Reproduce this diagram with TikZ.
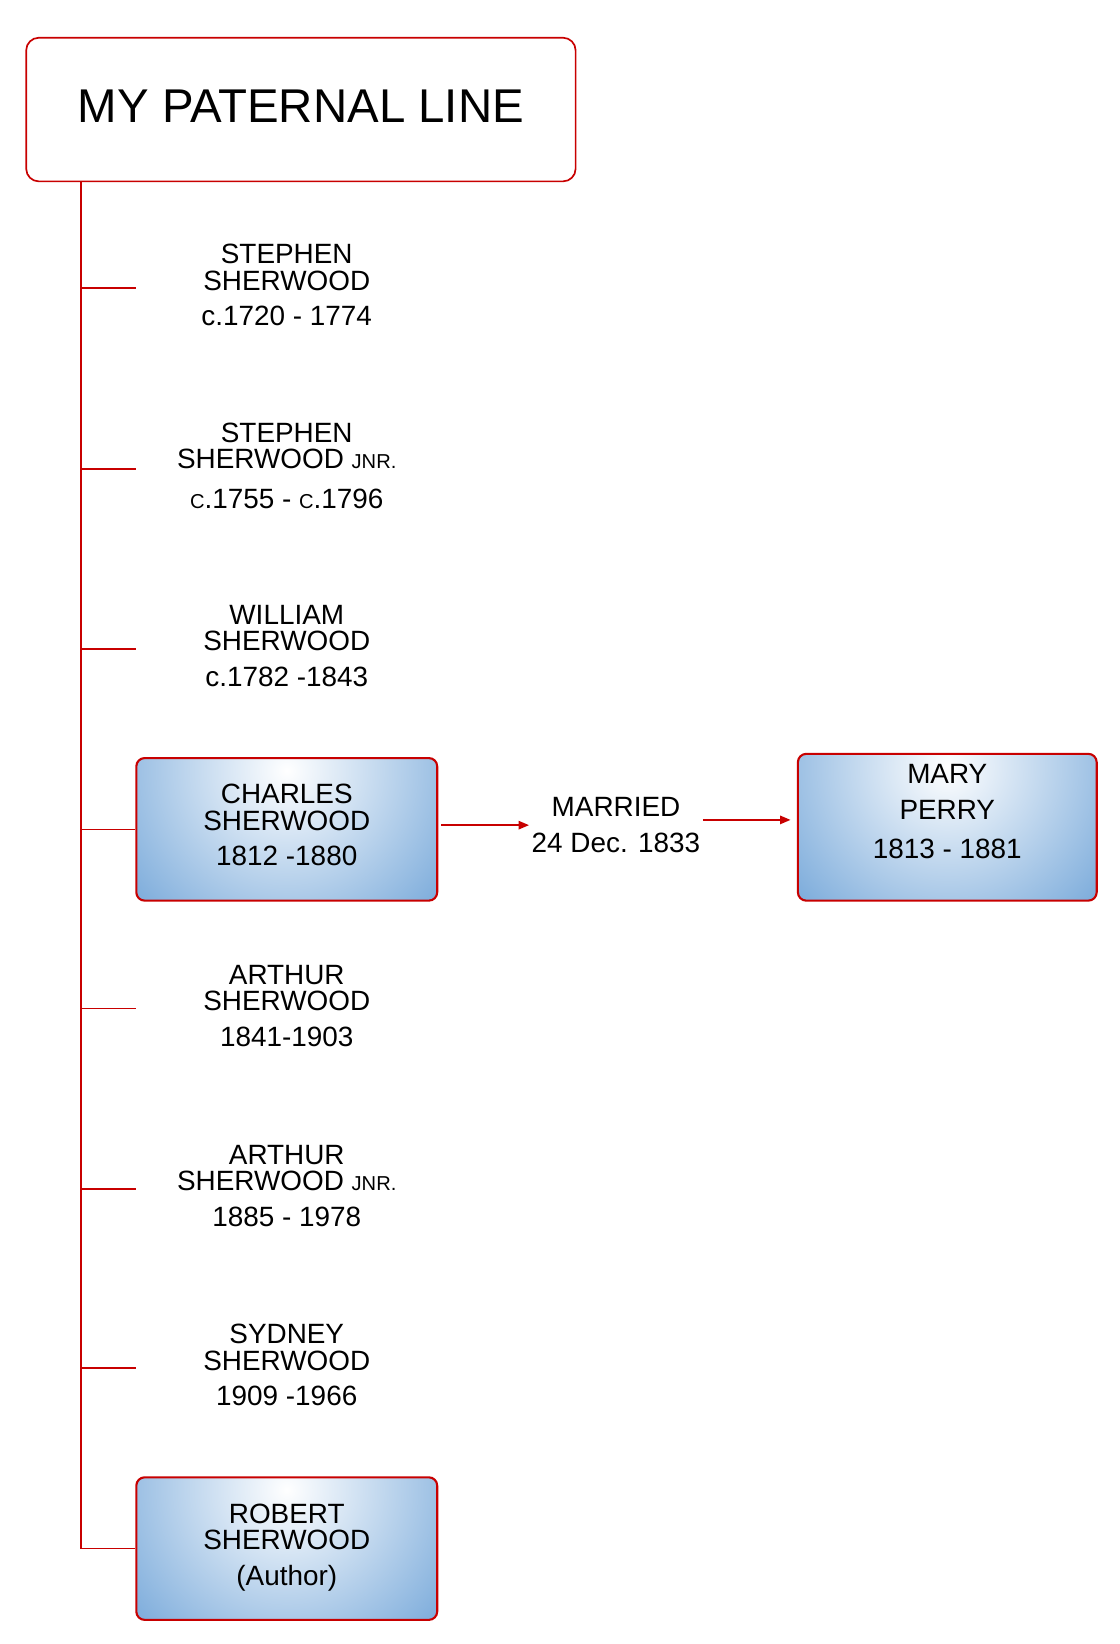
\documentclass[tikz,border=0pt]{standalone}
\usepackage{fontspec}
\setmainfont{Liberation Sans}
\usetikzlibrary{arrows.meta}

\definecolor{lineRed}{RGB}{200,0,0}
\definecolor{boxBlue}{RGB}{84,146,208}
\newcommand{\minorcaps}[1]{{\fontsize{9.6}{9.6}\selectfont #1}}

\tikzset{
  person/.style={minimum width=143.5pt, minimum height=68pt, inner sep=0pt,
    align=center, text depth=3pt, font=\fontsize{13.3}{12.5}\selectfont},
  highlit/.style={person, text depth=4pt, draw=lineRed, line width=1pt,
    rounded corners=4pt,
    path picture={\shade[inner color=white, outer color=boxBlue]
      ([yshift=-6pt]path picture bounding box.north) circle (125pt);}},
  note/.style={minimum width=82.5pt, inner sep=0pt, align=center,
    font=\fontsize{13.3}{12.5}\selectfont},
  branch/.style={lineRed, line width=0.8pt},
  wed/.style={branch, -{Triangle[length=5pt,width=4pt]}}
}

\begin{document}
\begin{tikzpicture}[x=0.5pt, y=-0.5pt]
\useasboundingbox (0,0) rectangle (1068,1568);

% ── Title ───────────────────────────────────────────────────────
\node[draw=lineRed, line width=0.8pt, rounded corners=6pt,
      minimum width=262pt, minimum height=68.5pt, inner sep=0pt,
      font=\fontsize{22.6}{26}\selectfont]
  (title) at (287,104.5) {\raisebox{3pt}{MY PATERNAL LINE}};

% ── Generations, oldest first (centre x = 273.5) ────────────────
\node[person] (stephen) at (273.5,275)
  {STEPHEN\\SHERWOOD\\[4.5pt]c.1720 - 1774};
\node[person] (stephenjnr) at (273.5,447)
  {STEPHEN\\SHERWOOD \minorcaps{JNR.}\\[6.5pt]\minorcaps{C}.1755 - \minorcaps{C}.1796};
\node[person] (william) at (273.5,619)
  {WILLIAM\\SHERWOOD\\[4.5pt]c.1782 -1843};
\node[highlit] (charles) at (273.5,791)
  {CHARLES\\SHERWOOD\\[4.5pt]1812 -1880};
\node[person] (arthur) at (273.5,962)
  {ARTHUR\\SHERWOOD\\[4.5pt]1841-1903};
\node[person] (arthurjnr) at (273.5,1134)
  {ARTHUR\\SHERWOOD \minorcaps{JNR.}\\[4.5pt]1885 - 1978};
\node[person] (sydney) at (273.5,1305)
  {SYDNEY\\SHERWOOD\\[4.5pt]1909 -1966};
\node[highlit] (robert) at (273.5,1477)
  {ROBERT\\SHERWOOD\\[4.5pt](Author)};

% ── Marriage ────────────────────────────────────────────────────
\node[note] (married) at (587.5,787) {MARRIED\\[4.5pt]24 Dec. 1833};
\node[highlit, minimum width=142.5pt, minimum height=70pt, text depth=15pt]
  (mary) at (903.5,789) {MARY\\[4.5pt]PERRY\\[6.5pt]1813 - 1881};

% ── Spine and branches ──────────────────────────────────────────
\coordinate (spine) at (77,173);
\draw[branch] (spine) |- (robert.west);
\foreach \who in {stephen,stephenjnr,william,charles,arthur,arthurjnr,sydney}
  \draw[branch] (\who.west -| spine) -- (\who.west);

\draw[wed, shorten <=1.5pt] (charles.east |- married.west) -- (married.west);
\draw[wed, shorten >=3pt] ([yshift=2.5pt]married.east)
  -- ([yshift=2.5pt]married.east -| mary.west);

\end{tikzpicture}
\end{document}
